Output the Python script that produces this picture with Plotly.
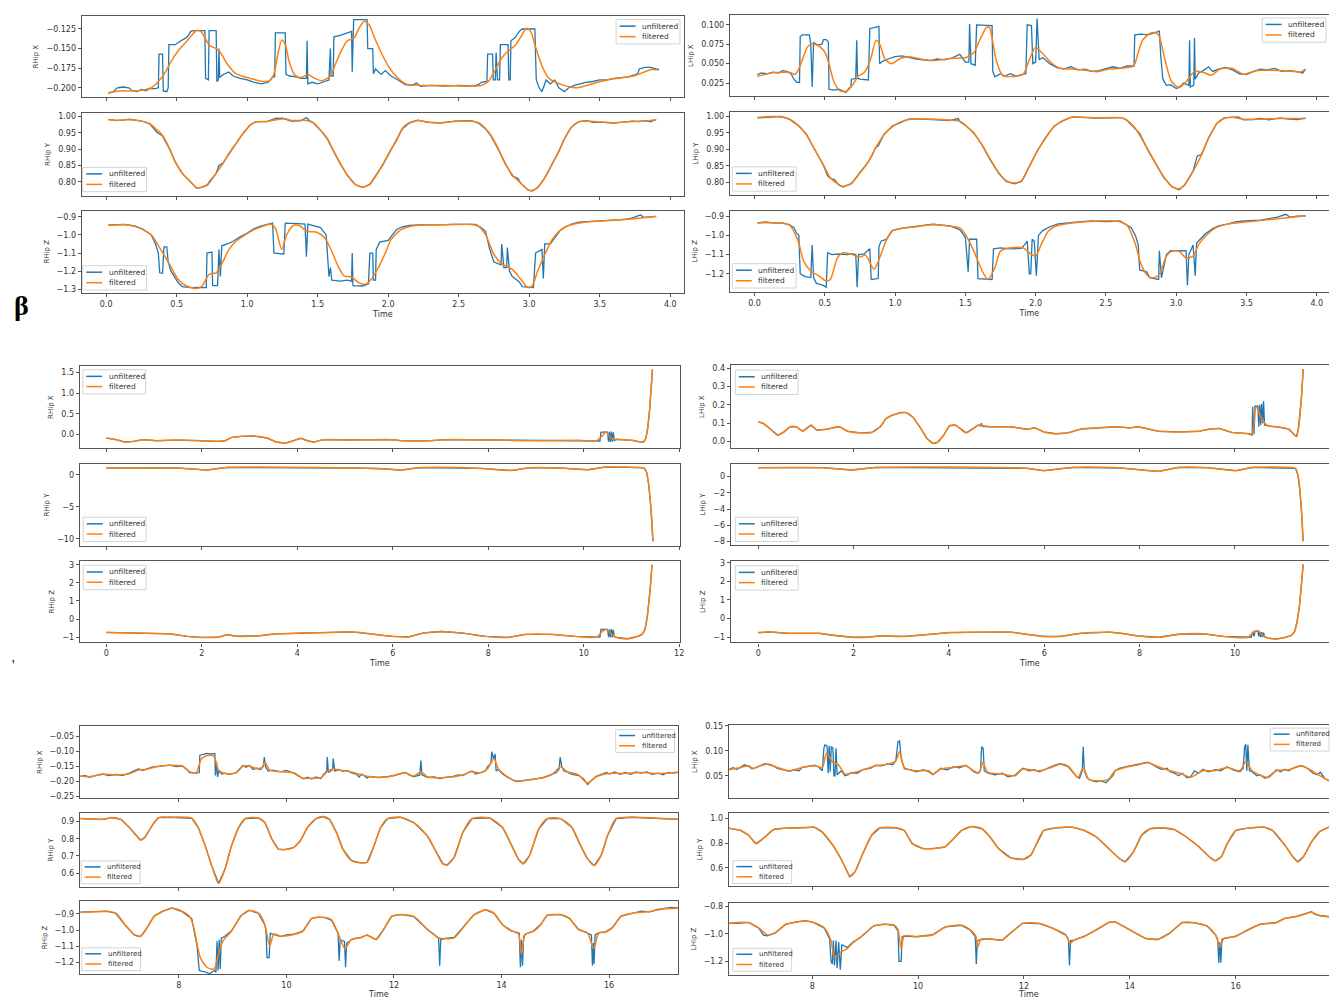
import plotly.graph_objects as go

W, H = 1333, 999
BLUE = "#1f77b4"
ORANGE = "#ff7f0e"
FONT = "DejaVu Sans"

# ---------------- Group A (0-4 s) ----------------
A_RHIP_X_FILT = [(0.016,-0.206),(0.10,-0.204),(0.196,-0.204),(0.26,-0.203),(0.32,-0.200),(0.37,-0.192),(0.42,-0.180),(0.465,-0.165),(0.51,-0.153),(0.56,-0.143),(0.607,-0.133),(0.64,-0.127),(0.67,-0.128),(0.70,-0.136),(0.734,-0.146),(0.78,-0.150),(0.81,-0.155),(0.86,-0.170),(0.92,-0.182),(1.02,-0.188),(1.11,-0.192),(1.16,-0.191),(1.19,-0.182),(1.22,-0.155),(1.245,-0.139),(1.27,-0.145),(1.30,-0.168),(1.34,-0.184),(1.38,-0.187),(1.43,-0.183),(1.48,-0.188),(1.53,-0.191),(1.59,-0.185),(1.625,-0.170),(1.67,-0.152),(1.71,-0.140),(1.76,-0.136),(1.79,-0.125),(1.83,-0.115),(1.866,-0.120),(1.90,-0.135),(1.95,-0.155),(2.0,-0.172),(2.06,-0.186),(2.125,-0.195),(2.22,-0.197),(2.41,-0.197),(2.57,-0.198),(2.66,-0.197),(2.71,-0.192),(2.76,-0.177),(2.805,-0.162),(2.85,-0.153),(2.90,-0.146),(2.94,-0.135),(2.98,-0.124),(3.01,-0.128),(3.04,-0.145),(3.09,-0.172),(3.14,-0.188),(3.23,-0.196),(3.33,-0.200),(3.39,-0.198),(3.485,-0.193),(3.58,-0.189),(3.67,-0.187),(3.74,-0.185),(3.80,-0.181),(3.86,-0.177),(3.91,-0.177)]
A_RHIP_X_UNF = [(0.016,-0.207),(0.05,-0.205),(0.08,-0.200),(0.12,-0.199),(0.16,-0.200),(0.19,-0.204),(0.22,-0.205),(0.25,-0.202),(0.28,-0.204),(0.31,-0.201),(0.35,-0.201),(0.37,-0.200),(0.375,-0.157),(0.40,-0.157),(0.405,-0.204),(0.43,-0.205),(0.44,-0.200),(0.445,-0.145),(0.49,-0.145),(0.51,-0.142),(0.53,-0.140),(0.56,-0.137),(0.58,-0.134),(0.60,-0.128),(0.62,-0.127),(0.70,-0.127),(0.705,-0.188),(0.725,-0.190),(0.73,-0.127),(0.78,-0.127),(0.785,-0.192),(0.795,-0.190),(0.80,-0.150),(0.805,-0.187),(0.83,-0.183),(0.87,-0.180),(0.90,-0.185),(0.95,-0.188),(1.00,-0.190),(1.05,-0.193),(1.10,-0.195),(1.15,-0.193),(1.18,-0.186),(1.195,-0.186),(1.20,-0.130),(1.27,-0.130),(1.275,-0.183),(1.30,-0.185),(1.35,-0.186),(1.38,-0.188),(1.42,-0.188),(1.425,-0.140),(1.43,-0.195),(1.46,-0.193),(1.50,-0.195),(1.55,-0.192),(1.58,-0.190),(1.59,-0.150),(1.595,-0.185),(1.61,-0.185),(1.615,-0.135),(1.66,-0.133),(1.70,-0.130),(1.74,-0.128),(1.745,-0.180),(1.75,-0.128),(1.755,-0.113),(1.85,-0.113),(1.855,-0.150),(1.89,-0.150),(1.895,-0.182),(1.91,-0.176),(1.95,-0.183),(1.98,-0.178),(2.02,-0.185),(2.07,-0.190),(2.12,-0.196),(2.17,-0.197),(2.20,-0.194),(2.23,-0.198),(2.30,-0.197),(2.40,-0.198),(2.50,-0.197),(2.60,-0.198),(2.64,-0.196),(2.66,-0.193),(2.70,-0.192),(2.705,-0.157),(2.74,-0.157),(2.745,-0.190),(2.76,-0.190),(2.765,-0.155),(2.775,-0.190),(2.79,-0.190),(2.795,-0.145),(2.85,-0.145),(2.855,-0.190),(2.865,-0.190),(2.87,-0.140),(2.90,-0.136),(2.93,-0.128),(2.95,-0.125),(3.04,-0.125),(3.045,-0.160),(3.05,-0.190),(3.07,-0.200),(3.09,-0.205),(3.12,-0.190),(3.15,-0.195),(3.18,-0.190),(3.21,-0.200),(3.25,-0.205),(3.28,-0.200),(3.32,-0.197),(3.36,-0.195),(3.40,-0.193),(3.45,-0.192),(3.50,-0.190),(3.55,-0.190),(3.60,-0.188),(3.65,-0.187),(3.70,-0.186),(3.74,-0.184),(3.77,-0.182),(3.78,-0.176),(3.82,-0.174),(3.86,-0.174),(3.90,-0.176),(3.92,-0.177)]

A_RHIP_Y_FILT = [(0.016,0.990),(0.07,0.988),(0.16,0.990),(0.26,0.985),(0.31,0.978),(0.35,0.963),(0.40,0.942),(0.45,0.902),(0.49,0.862),(0.54,0.826),(0.59,0.803),(0.64,0.783),(0.68,0.784),(0.73,0.796),(0.78,0.826),(0.83,0.857),(0.87,0.887),(0.92,0.917),(0.97,0.947),(1.02,0.973),(1.06,0.983),(1.14,0.985),(1.22,0.991),(1.27,0.993),(1.31,0.988),(1.42,0.988),(1.47,0.981),(1.52,0.958),(1.57,0.932),(1.61,0.897),(1.66,0.857),(1.71,0.821),(1.77,0.791),(1.82,0.784),(1.87,0.793),(1.91,0.816),(1.96,0.852),(2.01,0.892),(2.06,0.927),(2.10,0.963),(2.15,0.981),(2.21,0.988),(2.28,0.983),(2.37,0.981),(2.47,0.985),(2.59,0.986),(2.64,0.981),(2.69,0.963),(2.73,0.942),(2.78,0.902),(2.83,0.857),(2.88,0.821),(2.94,0.796),(2.99,0.776),(3.02,0.773),(3.06,0.783),(3.11,0.811),(3.16,0.852),(3.21,0.892),(3.25,0.932),(3.30,0.968),(3.35,0.983),(3.41,0.986),(3.51,0.983),(3.60,0.981),(3.73,0.985),(3.82,0.986),(3.90,0.990)]
A_RHIP_Y_UNF = [(0.016,0.991),(0.07,0.988),(0.12,0.989),(0.16,0.992),(0.22,0.988),(0.26,0.985),(0.31,0.977),(0.34,0.960),(0.36,0.952),(0.40,0.940),(0.45,0.900),(0.49,0.860),(0.54,0.825),(0.59,0.804),(0.62,0.790),(0.64,0.781),(0.68,0.783),(0.72,0.790),(0.73,0.800),(0.78,0.826),(0.80,0.850),(0.83,0.858),(0.85,0.872),(0.87,0.885),(0.92,0.918),(0.97,0.948),(1.02,0.974),(1.06,0.984),(1.14,0.984),(1.20,0.994),(1.25,0.995),(1.29,0.990),(1.31,0.986),(1.38,0.987),(1.42,0.997),(1.44,0.988),(1.47,0.980),(1.52,0.958),(1.55,0.940),(1.57,0.930),(1.61,0.895),(1.66,0.855),(1.71,0.820),(1.77,0.790),(1.82,0.783),(1.87,0.792),(1.91,0.818),(1.96,0.850),(2.01,0.890),(2.06,0.928),(2.10,0.962),(2.15,0.980),(2.21,0.989),(2.28,0.982),(2.37,0.980),(2.47,0.986),(2.59,0.987),(2.64,0.980),(2.69,0.962),(2.73,0.940),(2.78,0.900),(2.83,0.855),(2.88,0.818),(2.92,0.810),(2.94,0.795),(2.99,0.775),(3.02,0.772),(3.06,0.782),(3.11,0.812),(3.16,0.853),(3.21,0.894),(3.25,0.932),(3.30,0.968),(3.35,0.984),(3.41,0.987),(3.45,0.982),(3.51,0.983),(3.60,0.980),(3.68,0.984),(3.73,0.986),(3.78,0.984),(3.82,0.987),(3.86,0.984),(3.90,0.991)]

A_RHIP_Z_FILT = [(0.016,-0.947),(0.13,-0.944),(0.20,-0.953),(0.26,-0.971),(0.32,-0.999),(0.38,-1.072),(0.45,-1.163),(0.51,-1.245),(0.57,-1.282),(0.64,-1.296),(0.68,-1.282),(0.73,-1.218),(0.78,-1.209),(0.83,-1.145),(0.87,-1.081),(0.92,-1.035),(0.98,-1.002),(1.05,-0.971),(1.11,-0.953),(1.17,-0.940),(1.20,-0.962),(1.245,-1.080),(1.28,-0.999),(1.33,-0.947),(1.38,-0.953),(1.42,-0.980),(1.49,-0.984),(1.55,-1.017),(1.60,-1.090),(1.65,-1.181),(1.69,-1.227),(1.74,-1.232),(1.79,-1.263),(1.84,-1.272),(1.88,-1.245),(1.93,-1.181),(1.98,-1.099),(2.02,-1.026),(2.09,-0.971),(2.15,-0.953),(2.28,-0.944),(2.40,-0.944),(2.59,-0.942),(2.64,-0.953),(2.69,-0.999),(2.75,-1.108),(2.81,-1.163),(2.88,-1.190),(2.94,-1.245),(2.99,-1.291),(3.02,-1.282),(3.06,-1.199),(3.11,-1.108),(3.17,-1.017),(3.24,-0.962),(3.32,-0.940),(3.41,-0.929),(3.54,-0.922),(3.66,-0.916),(3.79,-0.907),(3.90,-0.898)]
A_RHIP_Z_UNF = [(0.016,-0.945),(0.08,-0.943),(0.13,-0.942),(0.20,-0.950),(0.26,-0.968),(0.32,-1.000),(0.35,-1.050),(0.37,-1.100),(0.38,-1.209),(0.40,-1.212),(0.41,-1.066),(0.43,-1.066),(0.44,-1.150),(0.46,-1.200),(0.51,-1.263),(0.54,-1.285),(0.60,-1.291),(0.66,-1.290),(0.71,-1.291),(0.715,-1.100),(0.75,-1.095),(0.755,-1.280),(0.79,-1.280),(0.80,-1.080),(0.81,-1.230),(0.82,-1.060),(0.86,-1.050),(0.90,-1.035),(0.95,-1.010),(1.00,-0.990),(1.05,-0.965),(1.10,-0.950),(1.16,-0.937),(1.18,-0.935),(1.19,-1.100),(1.26,-1.105),(1.27,-0.935),(1.30,-0.935),(1.36,-0.938),(1.41,-0.940),(1.42,-1.120),(1.43,-0.940),(1.46,-0.948),(1.52,-0.960),(1.56,-1.000),(1.58,-1.230),(1.59,-1.180),(1.60,-1.250),(1.66,-1.255),(1.71,-1.250),(1.74,-1.255),(1.745,-1.100),(1.75,-1.280),(1.82,-1.282),(1.86,-1.270),(1.87,-1.100),(1.89,-1.100),(1.895,-1.250),(1.91,-1.250),(1.915,-1.080),(1.94,-1.040),(2.00,-1.030),(2.03,-1.000),(2.06,-0.970),(2.10,-0.955),(2.15,-0.948),(2.25,-0.943),(2.35,-0.945),(2.45,-0.942),(2.55,-0.944),(2.62,-0.942),(2.66,-0.960),(2.69,-0.980),(2.72,-1.080),(2.75,-1.150),(2.80,-1.165),(2.805,-1.050),(2.82,-1.180),(2.84,-1.180),(2.845,-1.070),(2.86,-1.200),(2.88,-1.230),(2.93,-1.260),(2.95,-1.285),(3.03,-1.290),(3.045,-1.100),(3.08,-1.085),(3.09,-1.080),(3.10,-1.240),(3.11,-1.050),(3.15,-1.050),(3.18,-1.020),(3.22,-0.975),(3.26,-0.955),(3.30,-0.940),(3.35,-0.930),(3.40,-0.928),(3.45,-0.924),(3.50,-0.922),(3.55,-0.924),(3.60,-0.920),(3.65,-0.916),(3.70,-0.912),(3.74,-0.905),(3.77,-0.895),(3.79,-0.890),(3.81,-0.903),(3.85,-0.900),(3.90,-0.898)]

A_LHIP_X_FILT = [(0.02,0.0335),(0.108,0.0378),(0.195,0.039),(0.253,0.0387),(0.288,0.036),(0.317,0.044),(0.346,0.058),(0.375,0.071),(0.404,0.0755),(0.442,0.074),(0.471,0.071),(0.506,0.063),(0.535,0.046),(0.564,0.027),(0.608,0.015),(0.652,0.0145),(0.695,0.022),(0.739,0.034),(0.783,0.039),(0.826,0.056),(0.864,0.080),(0.893,0.074),(0.928,0.056),(0.972,0.050),(1.04,0.057),(1.097,0.059),(1.18,0.056),(1.27,0.054),(1.39,0.0565),(1.504,0.058),(1.56,0.064),(1.605,0.0815),(1.65,0.0965),(1.67,0.097),(1.69,0.083),(1.72,0.054),(1.766,0.0345),(1.84,0.0335),(1.91,0.036),(1.955,0.055),(1.999,0.071),(2.05,0.063),(2.115,0.0505),(2.173,0.044),(2.26,0.043),(2.377,0.041),(2.435,0.0395),(2.52,0.043),(2.61,0.044),(2.697,0.047),(2.726,0.062),(2.76,0.080),(2.813,0.089),(2.85,0.090),(2.877,0.086),(2.92,0.055),(2.964,0.028),(3.017,0.019),(3.066,0.026),(3.133,0.040),(3.19,0.039),(3.25,0.035),(3.31,0.043),(3.395,0.044),(3.48,0.0365),(3.57,0.041),(3.657,0.0415),(3.773,0.041),(3.89,0.0395),(3.918,0.043)]
A_LHIP_X_UNF = [(0.02,0.036),(0.05,0.038),(0.09,0.037),(0.13,0.039),(0.17,0.038),(0.20,0.041),(0.23,0.040),(0.26,0.037),(0.28,0.030),(0.30,0.026),(0.32,0.026),(0.325,0.085),(0.34,0.087),(0.39,0.087),(0.40,0.075),(0.41,0.020),(0.42,0.077),(0.45,0.074),(0.48,0.075),(0.49,0.081),(0.51,0.081),(0.525,0.078),(0.53,0.017),(0.56,0.016),(0.60,0.017),(0.63,0.014),(0.65,0.013),(0.67,0.018),(0.685,0.020),(0.69,0.030),(0.72,0.031),(0.727,0.080),(0.733,0.031),(0.75,0.030),(0.81,0.029),(0.82,0.095),(0.86,0.097),(0.885,0.098),(0.89,0.050),(0.91,0.053),(0.95,0.056),(1.00,0.059),(1.05,0.060),(1.10,0.058),(1.15,0.056),(1.20,0.055),(1.25,0.054),(1.30,0.056),(1.35,0.055),(1.40,0.057),(1.46,0.062),(1.50,0.052),(1.525,0.052),(1.53,0.101),(1.54,0.050),(1.57,0.048),(1.58,0.100),(1.69,0.099),(1.695,0.040),(1.71,0.033),(1.75,0.037),(1.78,0.034),(1.82,0.037),(1.86,0.034),(1.93,0.037),(1.94,0.100),(1.97,0.099),(1.98,0.050),(2.00,0.052),(2.01,0.108),(2.025,0.055),(2.05,0.058),(2.10,0.050),(2.15,0.045),(2.20,0.043),(2.25,0.046),(2.30,0.042),(2.35,0.043),(2.40,0.040),(2.45,0.041),(2.50,0.044),(2.55,0.046),(2.60,0.044),(2.65,0.047),(2.70,0.047),(2.705,0.087),(2.75,0.088),(2.80,0.087),(2.85,0.090),(2.88,0.092),(2.89,0.060),(2.905,0.030),(2.93,0.022),(2.96,0.023),(3.00,0.018),(3.04,0.022),(3.05,0.025),(3.09,0.022),(3.095,0.080),(3.10,0.020),(3.125,0.022),(3.13,0.083),(3.135,0.030),(3.16,0.038),(3.20,0.042),(3.23,0.046),(3.26,0.040),(3.30,0.043),(3.35,0.045),(3.40,0.042),(3.45,0.037),(3.50,0.036),(3.55,0.040),(3.60,0.043),(3.65,0.042),(3.70,0.044),(3.75,0.040),(3.80,0.041),(3.85,0.040),(3.90,0.038),(3.92,0.043)]

A_LHIP_Y_FILT = [(0.02,0.996),(0.11,0.999),(0.19,0.998),(0.25,0.991),(0.31,0.973),(0.37,0.943),(0.43,0.898),(0.49,0.853),(0.54,0.813),(0.60,0.793),(0.63,0.788),(0.69,0.798),(0.75,0.828),(0.81,0.863),(0.86,0.903),(0.92,0.943),(0.98,0.968),(1.04,0.983),(1.10,0.990),(1.27,0.991),(1.39,0.988),(1.46,0.985),(1.50,0.973),(1.56,0.948),(1.62,0.913),(1.68,0.868),(1.74,0.828),(1.79,0.805),(1.85,0.798),(1.90,0.805),(1.95,0.843),(2.01,0.893),(2.07,0.933),(2.13,0.968),(2.19,0.985),(2.26,0.997),(2.43,0.995),(2.61,0.995),(2.65,0.988),(2.70,0.968),(2.74,0.943),(2.80,0.898),(2.86,0.853),(2.91,0.818),(2.97,0.788),(3.02,0.781),(3.06,0.793),(3.12,0.833),(3.18,0.883),(3.23,0.933),(3.29,0.978),(3.34,0.993),(3.39,0.997),(3.48,0.991),(3.60,0.991),(3.74,0.993),(3.92,0.993)]
A_LHIP_Y_UNF = [(0.02,0.995),(0.11,0.998),(0.19,0.999),(0.25,0.990),(0.31,0.972),(0.35,0.955),(0.37,0.945),(0.43,0.897),(0.49,0.852),(0.52,0.820),(0.54,0.812),(0.57,0.808),(0.60,0.792),(0.63,0.786),(0.69,0.796),(0.75,0.830),(0.81,0.862),(0.84,0.885),(0.86,0.905),(0.88,0.910),(0.92,0.945),(0.98,0.970),(1.04,0.982),(1.10,0.992),(1.27,0.990),(1.39,0.987),(1.45,0.993),(1.46,0.984),(1.50,0.972),(1.56,0.950),(1.62,0.912),(1.68,0.866),(1.74,0.826),(1.79,0.803),(1.85,0.796),(1.90,0.803),(1.95,0.845),(1.98,0.870),(2.01,0.894),(2.07,0.935),(2.13,0.970),(2.19,0.986),(2.26,0.998),(2.43,0.994),(2.61,0.996),(2.65,0.987),(2.70,0.966),(2.74,0.948),(2.80,0.896),(2.86,0.852),(2.91,0.815),(2.97,0.786),(3.02,0.778),(3.06,0.792),(3.12,0.835),(3.15,0.880),(3.18,0.884),(3.23,0.935),(3.29,0.979),(3.34,0.995),(3.39,0.996),(3.44,0.998),(3.48,0.989),(3.55,0.990),(3.60,0.993),(3.66,0.989),(3.74,0.995),(3.80,0.991),(3.86,0.990),(3.92,0.994)]

A_LHIP_Z_FILT = [(0.02,-0.935),(0.19,-0.935),(0.25,-0.947),(0.31,-1.030),(0.35,-1.134),(0.40,-1.186),(0.46,-1.212),(0.51,-1.238),(0.54,-1.229),(0.59,-1.117),(0.63,-1.091),(0.69,-1.099),(0.75,-1.113),(0.79,-1.103),(0.85,-1.177),(0.89,-1.117),(0.94,-1.021),(0.98,-0.975),(1.07,-0.961),(1.15,-0.955),(1.27,-0.943),(1.39,-0.952),(1.46,-0.961),(1.50,-0.995),(1.56,-1.082),(1.62,-1.186),(1.66,-1.229),(1.71,-1.169),(1.75,-1.082),(1.82,-1.065),(1.91,-1.065),(1.97,-1.099),(2.00,-1.108),(2.04,-1.047),(2.09,-0.978),(2.14,-0.952),(2.26,-0.935),(2.43,-0.926),(2.58,-0.926),(2.65,-0.947),(2.71,-1.047),(2.75,-1.151),(2.80,-1.212),(2.84,-1.221),(2.88,-1.203),(2.93,-1.108),(2.97,-1.082),(3.02,-1.082),(3.07,-1.117),(3.12,-1.108),(3.16,-1.047),(3.22,-0.995),(3.28,-0.961),(3.37,-0.940),(3.48,-0.931),(3.60,-0.923),(3.74,-0.912),(3.89,-0.900),(3.92,-0.900)]
A_LHIP_Z_UNF = [(0.02,-0.935),(0.08,-0.930),(0.14,-0.936),(0.19,-0.934),(0.25,-0.945),(0.28,-0.960),(0.30,-0.990),(0.315,-1.000),(0.325,-1.200),(0.36,-1.215),(0.40,-1.220),(0.41,-1.050),(0.42,-1.220),(0.44,-1.250),(0.48,-1.258),(0.51,-1.270),(0.52,-1.090),(0.55,-1.100),(0.60,-1.097),(0.66,-1.100),(0.69,-1.095),(0.72,-1.100),(0.73,-1.270),(0.74,-1.100),(0.78,-1.097),(0.82,-1.070),(0.83,-1.230),(0.88,-1.225),(0.885,-1.060),(0.90,-1.030),(0.94,-1.020),(0.98,-0.975),(1.05,-0.962),(1.15,-0.953),(1.27,-0.942),(1.39,-0.950),(1.46,-0.970),(1.50,-1.010),(1.52,-1.190),(1.53,-1.020),(1.58,-1.020),(1.59,-1.225),(1.69,-1.230),(1.70,-1.070),(1.75,-1.065),(1.82,-1.070),(1.90,-1.068),(1.93,-1.040),(1.94,-1.030),(1.955,-1.200),(1.965,-1.200),(1.975,-1.020),(1.99,-1.030),(2.005,-1.210),(2.02,-1.000),(2.05,-0.975),(2.10,-0.955),(2.16,-0.940),(2.22,-0.935),(2.30,-0.930),(2.40,-0.925),(2.50,-0.928),(2.60,-0.925),(2.65,-0.945),(2.68,-0.960),(2.71,-1.000),(2.73,-1.050),(2.74,-1.180),(2.79,-1.190),(2.81,-1.220),(2.875,-1.230),(2.88,-1.080),(2.895,-1.220),(2.93,-1.100),(2.96,-1.080),(3.07,-1.080),(3.08,-1.260),(3.09,-1.100),(3.12,-1.050),(3.135,-1.210),(3.145,-1.040),(3.17,-1.020),(3.21,-0.990),(3.26,-0.965),(3.30,-0.950),(3.37,-0.940),(3.42,-0.930),(3.48,-0.925),(3.54,-0.922),(3.60,-0.920),(3.66,-0.912),(3.72,-0.905),(3.78,-0.890),(3.81,-0.905),(3.86,-0.900),(3.92,-0.898)]

# ---------------- Group B (0-11.5 s) ----------------
B_RHIP_X_FILT = [(0.0,-0.088),(0.2,-0.128),(0.39,-0.184),(0.58,-0.168),(0.76,-0.128),(1.04,-0.152),(1.51,-0.136),(1.98,-0.152),(2.35,-0.168),(2.49,-0.152),(2.63,-0.072),(2.81,-0.048),(3.09,-0.040),(3.37,-0.088),(3.56,-0.184),(3.75,-0.208),(3.93,-0.152),(4.07,-0.096),(4.21,-0.152),(4.35,-0.184),(4.54,-0.128),(5.05,-0.136),(5.98,-0.128),(6.17,-0.152),(6.73,-0.152),(7.10,-0.128),(7.57,-0.128),(8.03,-0.136),(8.96,-0.152),(9.89,-0.144),(10.27,-0.152),(10.38,-0.048),(10.47,0.056),(10.57,-0.088),(10.69,-0.120),(11.01,-0.144),(11.20,-0.184),(11.25,-0.19),(11.30,-0.10),(11.34,0.15),(11.38,0.6),(11.41,1.05),(11.44,1.58)]
B_RHIP_X_UNF = [(0.0,-0.090),(0.2,-0.125),(0.39,-0.185),(0.58,-0.170),(0.76,-0.125),(1.04,-0.150),(1.51,-0.140),(1.98,-0.150),(2.35,-0.170),(2.49,-0.150),(2.63,-0.070),(2.81,-0.050),(3.09,-0.040),(3.37,-0.090),(3.56,-0.185),(3.75,-0.210),(3.93,-0.150),(4.07,-0.095),(4.21,-0.150),(4.35,-0.185),(4.54,-0.125),(5.05,-0.135),(5.98,-0.130),(6.17,-0.150),(6.73,-0.155),(7.10,-0.125),(7.57,-0.130),(8.03,-0.135),(8.96,-0.150),(9.89,-0.145),(10.27,-0.155),(10.34,-0.160),(10.36,0.050),(10.40,0.060),(10.46,0.060),(10.50,0.050),(10.52,-0.180),(10.54,0.060),(10.56,-0.190),(10.58,0.070),(10.60,-0.180),(10.62,0.050),(10.64,-0.150),(10.69,-0.120),(11.01,-0.145),(11.20,-0.185),(11.25,-0.19),(11.30,-0.10),(11.34,0.15),(11.38,0.6),(11.41,1.05),(11.44,1.58)]

B_RHIP_Y_FILT = [(0.0,1.04),(1.51,1.04),(1.98,0.78),(2.1,0.72),(2.25,0.88),(2.53,1.14),(5.24,1.04),(5.80,0.93),(6.17,0.73),(6.54,1.09),(7.84,0.98),(8.50,0.67),(8.87,1.09),(9.52,1.04),(10.08,0.78),(10.45,1.19),(11.22,1.09),(11.27,1.0),(11.32,0.3),(11.36,-1.5),(11.40,-4.5),(11.43,-7.5),(11.45,-10.4)]
B_RHIP_Y_UNF = B_RHIP_Y_FILT

B_RHIP_Z_FILT = [(0.0,-0.743),(0.58,-0.78),(1.32,-0.82),(1.70,-0.96),(1.98,-1.02),(2.35,-1.0),(2.53,-0.87),(2.72,-0.95),(3.19,-0.93),(3.56,-0.82),(4.12,-0.78),(4.68,-0.743),(5.14,-0.71),(5.52,-0.82),(5.98,-0.96),(6.35,-0.98),(6.63,-0.78),(7.01,-0.69),(7.47,-0.78),(7.94,-0.96),(8.40,-1.02),(8.78,-0.85),(9.34,-0.85),(9.80,-0.96),(10.27,-1.0),(10.38,-0.72),(10.47,-0.56),(10.57,-0.82),(10.69,-1.02),(10.92,-1.09),(11.11,-0.98),(11.22,-0.85),(11.28,-0.6),(11.33,0.1),(11.37,1.0),(11.40,1.9),(11.43,3.0)]
B_RHIP_Z_UNF = [(0.0,-0.743),(0.58,-0.78),(1.32,-0.82),(1.70,-0.96),(1.98,-1.02),(2.35,-1.0),(2.53,-0.87),(2.72,-0.95),(3.19,-0.93),(3.56,-0.82),(4.12,-0.78),(4.68,-0.743),(5.14,-0.71),(5.52,-0.82),(5.98,-0.96),(6.35,-0.98),(6.63,-0.78),(7.01,-0.69),(7.47,-0.78),(7.94,-0.96),(8.40,-1.02),(8.78,-0.85),(9.34,-0.85),(9.80,-0.96),(10.27,-1.0),(10.34,-1.0),(10.36,-0.58),(10.46,-0.56),(10.50,-0.58),(10.52,-1.0),(10.54,-0.58),(10.56,-1.02),(10.58,-0.56),(10.60,-1.0),(10.62,-0.6),(10.64,-0.98),(10.69,-1.02),(10.92,-1.09),(11.11,-0.98),(11.22,-0.85),(11.28,-0.6),(11.33,0.1),(11.37,1.0),(11.40,1.9),(11.43,3.0)]

B_LHIP_X_FILT = [(0.0,0.107),(0.11,0.098),(0.24,0.071),(0.41,0.034),(0.54,0.052),(0.67,0.080),(0.80,0.080),(0.93,0.056),(1.03,0.074),(1.11,0.089),(1.23,0.062),(1.44,0.067),(1.70,0.080),(1.87,0.056),(2.13,0.047),(2.38,0.049),(2.56,0.080),(2.68,0.125),(2.81,0.143),(2.98,0.157),(3.11,0.157),(3.24,0.134),(3.41,0.071),(3.54,0.016),(3.67,-0.011),(3.76,-0.005),(3.89,0.034),(4.01,0.085),(4.14,0.089),(4.27,0.062),(4.36,0.047),(4.49,0.067),(4.61,0.089),(4.87,0.080),(5.30,0.080),(5.64,0.067),(5.81,0.074),(5.99,0.052),(6.24,0.042),(6.50,0.047),(6.76,0.067),(7.10,0.074),(7.53,0.080),(7.79,0.074),(7.96,0.080),(8.39,0.056),(8.82,0.052),(9.25,0.056),(9.46,0.067),(9.67,0.071),(9.93,0.049),(10.27,0.043),(10.36,0.043),(10.43,0.179),(10.46,0.188),(10.51,0.152),(10.57,0.116),(10.70,0.085),(10.87,0.080),(11.13,0.067),(11.22,0.043),(11.29,0.025),(11.33,0.07),(11.37,0.16),(11.40,0.26),(11.43,0.396)]
B_LHIP_X_UNF = [(0.0,0.107),(0.11,0.098),(0.24,0.071),(0.41,0.034),(0.54,0.052),(0.67,0.080),(0.80,0.080),(0.93,0.056),(1.03,0.074),(1.11,0.089),(1.23,0.062),(1.44,0.067),(1.70,0.080),(1.87,0.056),(2.13,0.047),(2.38,0.049),(2.56,0.080),(2.68,0.125),(2.81,0.143),(2.98,0.157),(3.11,0.157),(3.24,0.134),(3.41,0.071),(3.54,0.016),(3.67,-0.011),(3.76,-0.005),(3.89,0.034),(4.01,0.085),(4.14,0.089),(4.27,0.062),(4.36,0.047),(4.49,0.067),(4.61,0.089),(4.66,0.085),(4.68,0.100),(4.70,0.082),(4.87,0.080),(5.30,0.080),(5.64,0.067),(5.81,0.074),(5.99,0.052),(6.24,0.042),(6.50,0.047),(6.76,0.067),(7.10,0.074),(7.53,0.080),(7.79,0.074),(7.96,0.080),(8.39,0.056),(8.82,0.052),(9.25,0.056),(9.46,0.067),(9.67,0.071),(9.93,0.049),(10.27,0.043),(10.34,0.038),(10.36,0.035),(10.37,0.190),(10.40,0.040),(10.42,0.195),(10.45,0.190),(10.48,0.195),(10.50,0.080),(10.52,0.200),(10.54,0.090),(10.56,0.205),(10.58,0.100),(10.60,0.220),(10.62,0.090),(10.66,0.088),(10.70,0.085),(10.87,0.080),(11.13,0.067),(11.22,0.043),(11.29,0.025),(11.33,0.07),(11.37,0.16),(11.40,0.26),(11.43,0.396)]

B_LHIP_Y_FILT = [(0.0,1.09),(1.36,1.09),(1.96,0.81),(2.47,1.13),(5.64,1.01),(5.99,0.73),(6.59,1.13),(7.62,1.05),(8.39,0.65),(8.82,1.13),(9.42,1.09),(10.02,0.73),(10.36,1.13),(11.22,1.09),(11.27,1.0),(11.32,0.2),(11.36,-1.6),(11.39,-3.8),(11.41,-5.6),(11.43,-7.96)]
B_LHIP_Y_UNF = B_LHIP_Y_FILT

B_LHIP_Z_FILT = [(0.0,-0.75),(0.24,-0.72),(0.67,-0.79),(1.27,-0.79),(1.53,-0.88),(1.96,-1.0),(2.30,-1.0),(2.56,-0.93),(3.07,-0.96),(3.67,-0.84),(4.01,-0.75),(4.70,-0.73),(5.30,-0.73),(5.56,-0.82),(5.99,-0.96),(6.33,-0.96),(6.76,-0.79),(7.36,-0.73),(7.62,-0.79),(7.96,-0.93),(8.39,-1.0),(8.82,-0.84),(9.33,-0.82),(9.76,-0.96),(10.27,-1.0),(10.40,-0.70),(10.49,-0.66),(10.57,-0.88),(10.70,-1.05),(10.87,-1.09),(11.04,-1.02),(11.18,-0.9),(11.25,-0.7),(11.30,-0.2),(11.35,0.64),(11.39,1.70),(11.43,2.91)]
B_LHIP_Z_UNF = [(0.0,-0.75),(0.24,-0.72),(0.67,-0.79),(1.27,-0.79),(1.53,-0.88),(1.96,-1.0),(2.30,-1.0),(2.56,-0.93),(3.07,-0.96),(3.67,-0.84),(4.01,-0.75),(4.70,-0.73),(5.30,-0.73),(5.56,-0.82),(5.99,-0.96),(6.33,-0.96),(6.76,-0.79),(7.36,-0.73),(7.62,-0.79),(7.96,-0.93),(8.39,-1.0),(8.82,-0.84),(9.33,-0.82),(9.76,-0.96),(10.27,-1.0),(10.34,-1.0),(10.37,-0.70),(10.40,-0.95),(10.42,-0.68),(10.48,-0.68),(10.50,-0.95),(10.52,-0.70),(10.54,-1.0),(10.56,-0.72),(10.58,-1.0),(10.60,-0.75),(10.62,-0.98),(10.70,-1.05),(10.87,-1.09),(11.04,-1.02),(11.18,-0.9),(11.25,-0.7),(11.30,-0.2),(11.35,0.64),(11.39,1.70),(11.43,2.91)]

# ---------------- Group C (6-18 s) ----------------
C_RHIP_X_FILT = [(6.17,-0.182),(6.34,-0.184),(6.59,-0.176),(6.83,-0.178),(7.08,-0.174),(7.25,-0.162),(7.41,-0.159),(7.58,-0.151),(7.83,-0.146),(8.07,-0.149),(8.20,-0.167),(8.32,-0.171),(8.42,-0.124),(8.53,-0.113),(8.65,-0.115),(8.74,-0.162),(8.86,-0.173),(9.07,-0.171),(9.19,-0.149),(9.31,-0.148),(9.44,-0.157),(9.55,-0.153),(9.60,-0.135),(9.69,-0.162),(9.89,-0.167),(10.14,-0.171),(10.31,-0.189),(10.47,-0.189),(10.64,-0.187),(10.76,-0.167),(10.88,-0.157),(10.97,-0.162),(11.13,-0.165),(11.30,-0.173),(11.55,-0.184),(11.88,-0.185),(12.21,-0.171),(12.37,-0.182),(12.50,-0.167),(12.62,-0.184),(12.95,-0.187),(13.28,-0.178),(13.45,-0.167),(13.61,-0.171),(13.74,-0.157),(13.86,-0.124),(13.94,-0.157),(14.11,-0.184),(14.27,-0.198),(14.52,-0.195),(14.77,-0.187),(14.93,-0.178),(15.10,-0.151),(15.22,-0.167),(15.43,-0.178),(15.60,-0.205),(15.76,-0.184),(16.01,-0.173),(16.26,-0.173),(16.59,-0.170),(16.92,-0.173),(17.28,-0.169)]
C_RHIP_X_UNF = [(6.17,-0.183),(6.25,-0.180),(6.34,-0.186),(6.45,-0.180),(6.59,-0.175),(6.70,-0.180),(6.83,-0.176),(6.95,-0.180),(7.08,-0.172),(7.17,-0.165),(7.25,-0.158),(7.33,-0.163),(7.41,-0.157),(7.50,-0.152),(7.58,-0.150),(7.70,-0.148),(7.83,-0.145),(7.95,-0.150),(8.07,-0.148),(8.15,-0.160),(8.20,-0.170),(8.32,-0.172),(8.38,-0.170),(8.39,-0.112),(8.45,-0.108),(8.52,-0.106),(8.60,-0.108),(8.67,-0.106),(8.68,-0.180),(8.70,-0.135),(8.72,-0.185),(8.74,-0.165),(8.80,-0.175),(8.86,-0.172),(8.95,-0.176),(9.07,-0.170),(9.13,-0.158),(9.19,-0.147),(9.25,-0.152),(9.31,-0.146),(9.38,-0.160),(9.44,-0.155),(9.52,-0.160),(9.57,-0.150),(9.59,-0.118),(9.61,-0.150),(9.66,-0.165),(9.75,-0.162),(9.89,-0.168),(10.00,-0.163),(10.14,-0.172),(10.22,-0.180),(10.31,-0.191),(10.40,-0.186),(10.47,-0.192),(10.55,-0.185),(10.64,-0.190),(10.70,-0.175),(10.75,-0.165),(10.76,-0.118),(10.78,-0.170),(10.86,-0.160),(10.87,-0.123),(10.90,-0.165),(10.97,-0.160),(11.05,-0.166),(11.13,-0.163),(11.22,-0.172),(11.30,-0.175),(11.35,-0.185),(11.40,-0.175),(11.50,-0.188),(11.55,-0.183),(11.70,-0.186),(11.88,-0.184),(12.00,-0.180),(12.10,-0.176),(12.21,-0.170),(12.30,-0.180),(12.37,-0.184),(12.48,-0.178),(12.50,-0.130),(12.52,-0.178),(12.62,-0.186),(12.75,-0.185),(12.85,-0.190),(12.95,-0.186),(13.10,-0.183),(13.20,-0.178),(13.28,-0.180),(13.38,-0.170),(13.45,-0.165),(13.52,-0.175),(13.61,-0.170),(13.70,-0.165),(13.74,-0.150),(13.80,-0.140),(13.82,-0.100),(13.85,-0.125),(13.88,-0.108),(13.90,-0.165),(13.94,-0.160),(14.02,-0.175),(14.11,-0.186),(14.20,-0.195),(14.27,-0.200),(14.38,-0.197),(14.52,-0.193),(14.65,-0.190),(14.77,-0.188),(14.85,-0.182),(14.93,-0.176),(15.02,-0.170),(15.07,-0.158),(15.09,-0.118),(15.12,-0.150),(15.16,-0.165),(15.22,-0.168),(15.30,-0.175),(15.43,-0.180),(15.52,-0.190),(15.60,-0.210),(15.65,-0.200),(15.76,-0.183),(15.85,-0.178),(15.95,-0.170),(16.01,-0.175),(16.10,-0.168),(16.20,-0.176),(16.30,-0.170),(16.40,-0.176),(16.50,-0.168),(16.59,-0.172),(16.70,-0.168),(16.80,-0.176),(16.92,-0.172),(17.00,-0.178),(17.10,-0.170),(17.20,-0.172),(17.28,-0.169)]

C_RHIP_Y_FILT = [(6.17,0.917),(6.59,0.913),(6.75,0.923),(6.92,0.913),(7.08,0.865),(7.21,0.817),(7.29,0.792),(7.37,0.808),(7.50,0.875),(7.62,0.923),(7.83,0.925),(8.24,0.919),(8.36,0.865),(8.49,0.760),(8.61,0.644),(8.74,0.540),(8.86,0.625),(8.98,0.760),(9.11,0.865),(9.23,0.917),(9.48,0.921),(9.60,0.894),(9.73,0.798),(9.85,0.740),(9.98,0.737),(10.14,0.750),(10.26,0.788),(10.39,0.865),(10.55,0.917),(10.68,0.929),(10.80,0.913),(10.93,0.837),(11.05,0.740),(11.21,0.673),(11.38,0.660),(11.50,0.663),(11.63,0.760),(11.75,0.865),(11.88,0.917),(12.12,0.925),(12.37,0.894),(12.62,0.817),(12.79,0.721),(12.91,0.654),(12.99,0.648),(13.12,0.692),(13.28,0.837),(13.45,0.917),(13.78,0.921),(14.02,0.865),(14.19,0.760),(14.31,0.683),(14.40,0.654),(14.52,0.702),(14.69,0.856),(14.85,0.917),(15.10,0.917),(15.31,0.865),(15.47,0.760),(15.60,0.683),(15.72,0.644),(15.85,0.702),(15.97,0.817),(16.13,0.917),(16.42,0.925),(16.83,0.921),(17.28,0.913)]
C_RHIP_Y_UNF = C_RHIP_Y_FILT

C_RHIP_Z_FILT = [(6.17,-0.892),(6.67,-0.886),(6.83,-0.896),(7.00,-0.967),(7.17,-1.028),(7.29,-1.038),(7.41,-0.987),(7.54,-0.916),(7.70,-0.886),(7.87,-0.866),(8.07,-0.886),(8.20,-0.916),(8.28,-0.987),(8.40,-1.170),(8.53,-1.231),(8.65,-1.241),(8.74,-1.149),(8.82,-1.068),(8.98,-1.007),(9.15,-0.916),(9.31,-0.880),(9.48,-0.896),(9.60,-0.967),(9.69,-1.099),(9.77,-1.024),(9.89,-1.038),(10.14,-1.028),(10.31,-1.007),(10.47,-0.930),(10.72,-0.922),(10.84,-0.937),(10.97,-1.028),(11.09,-1.113),(11.21,-1.058),(11.38,-1.048),(11.50,-1.032),(11.67,-1.058),(11.79,-1.007),(11.96,-0.916),(12.12,-0.906),(12.37,-0.916),(12.62,-0.997),(12.83,-1.048),(12.95,-1.054),(13.12,-1.048),(13.33,-0.967),(13.49,-0.906),(13.70,-0.876),(13.86,-0.896),(14.02,-0.967),(14.19,-1.007),(14.31,-1.018),(14.37,-1.149),(14.44,-1.028),(14.60,-1.007),(14.73,-0.967),(14.85,-0.910),(15.10,-0.906),(15.26,-0.926),(15.43,-0.997),(15.60,-1.018),(15.71,-1.113),(15.81,-1.018),(15.93,-1.014),(16.06,-0.987),(16.22,-0.916),(16.43,-0.896),(16.76,-0.886),(17.01,-0.870),(17.28,-0.866)]
C_RHIP_Z_UNF = [(6.17,-0.890),(6.40,-0.888),(6.67,-0.884),(6.83,-0.898),(7.00,-0.970),(7.17,-1.030),(7.29,-1.040),(7.41,-0.985),(7.54,-0.914),(7.70,-0.884),(7.87,-0.864),(8.07,-0.888),(8.20,-0.918),(8.24,-0.930),(8.34,-1.100),(8.38,-1.250),(8.50,-1.260),(8.57,-1.270),(8.66,-1.250),(8.69,-1.260),(8.71,-1.070),(8.73,-1.250),(8.75,-1.060),(8.77,-1.240),(8.79,-1.050),(8.85,-1.040),(8.98,-1.005),(9.15,-0.914),(9.31,-0.878),(9.48,-0.898),(9.60,-0.970),(9.62,-1.000),(9.64,-1.170),(9.68,-1.170),(9.70,-1.020),(9.77,-1.026),(9.89,-1.040),(10.00,-1.030),(10.14,-1.026),(10.31,-1.005),(10.47,-0.928),(10.60,-0.920),(10.72,-0.924),(10.84,-0.940),(10.96,-1.020),(10.98,-1.190),(11.00,-1.060),(11.08,-1.070),(11.10,-1.230),(11.12,-1.080),(11.21,-1.060),(11.30,-1.050),(11.38,-1.046),(11.50,-1.030),(11.60,-1.050),(11.67,-1.060),(11.79,-1.005),(11.96,-0.914),(12.12,-0.904),(12.37,-0.918),(12.62,-0.995),(12.80,-1.045),(12.83,-1.050),(12.85,-1.220),(12.87,-1.060),(12.95,-1.052),(13.12,-1.046),(13.33,-0.965),(13.49,-0.904),(13.70,-0.874),(13.86,-0.898),(14.02,-0.969),(14.19,-1.005),(14.31,-1.020),(14.33,-1.020),(14.35,-1.230),(14.37,-1.060),(14.39,-1.220),(14.41,-1.040),(14.44,-1.026),(14.60,-1.005),(14.73,-0.965),(14.85,-0.908),(15.10,-0.904),(15.26,-0.928),(15.43,-0.995),(15.60,-1.020),(15.67,-1.030),(15.69,-1.220),(15.71,-1.080),(15.72,-1.210),(15.74,-1.030),(15.81,-1.016),(15.93,-1.012),(16.06,-0.985),(16.22,-0.914),(16.43,-0.898),(16.60,-0.884),(16.76,-0.888),(16.90,-0.872),(17.01,-0.868),(17.15,-0.860),(17.28,-0.864)]

C_LHIP_X_FILT = [(6.42,0.062),(6.65,0.0667),(6.80,0.070),(6.88,0.0647),(7.03,0.070),(7.19,0.0733),(7.34,0.0667),(7.57,0.060),(7.81,0.0667),(8.04,0.070),(8.19,0.0667),(8.27,0.095),(8.39,0.0767),(8.50,0.0713),(8.62,0.0533),(8.73,0.055),(8.97,0.062),(9.20,0.070),(9.43,0.0733),(9.58,0.080),(9.65,0.098),(9.74,0.0667),(9.97,0.060),(10.20,0.060),(10.28,0.0533),(10.43,0.0633),(10.67,0.0667),(10.90,0.070),(11.05,0.060),(11.15,0.0553),(11.22,0.0767),(11.32,0.0567),(11.59,0.0533),(11.83,0.050),(11.98,0.0633),(12.29,0.060),(12.52,0.0667),(12.68,0.0733),(12.83,0.070),(13.02,0.0467),(13.12,0.0667),(13.22,0.0433),(13.37,0.040),(13.60,0.0433),(13.72,0.060),(13.91,0.0667),(14.14,0.0713),(14.34,0.0767),(14.49,0.070),(14.76,0.060),(14.99,0.0533),(15.15,0.0467),(15.38,0.060),(15.61,0.060),(15.84,0.0667),(16.08,0.060),(16.19,0.078),(16.31,0.060),(16.46,0.0513),(16.62,0.0467),(16.77,0.060),(17.00,0.062),(17.23,0.070),(17.39,0.0633),(17.54,0.0533),(17.76,0.040)]
C_LHIP_X_UNF = [(6.42,0.062),(6.50,0.066),(6.58,0.063),(6.65,0.068),(6.72,0.072),(6.80,0.069),(6.86,0.064),(6.92,0.066),(7.03,0.071),(7.10,0.074),(7.19,0.072),(7.26,0.070),(7.34,0.065),(7.45,0.062),(7.57,0.059),(7.65,0.062),(7.75,0.060),(7.81,0.067),(7.90,0.068),(8.04,0.071),(8.12,0.068),(8.19,0.060),(8.22,0.105),(8.24,0.112),(8.28,0.110),(8.30,0.055),(8.32,0.110),(8.34,0.058),(8.36,0.108),(8.39,0.106),(8.41,0.050),(8.43,0.050),(8.45,0.105),(8.47,0.052),(8.55,0.060),(8.62,0.050),(8.68,0.052),(8.73,0.056),(8.85,0.055),(8.97,0.063),(9.10,0.065),(9.20,0.071),(9.30,0.070),(9.43,0.074),(9.52,0.072),(9.58,0.080),(9.62,0.118),(9.65,0.120),(9.68,0.085),(9.74,0.064),(9.85,0.062),(9.97,0.058),(10.10,0.062),(10.20,0.058),(10.28,0.052),(10.35,0.058),(10.43,0.065),(10.55,0.062),(10.67,0.068),(10.78,0.066),(10.90,0.071),(10.98,0.065),(11.05,0.058),(11.12,0.055),(11.18,0.060),(11.20,0.108),(11.23,0.105),(11.25,0.060),(11.32,0.055),(11.45,0.052),(11.59,0.055),(11.70,0.048),(11.83,0.051),(11.90,0.058),(11.98,0.065),(12.10,0.060),(12.20,0.062),(12.29,0.058),(12.40,0.063),(12.52,0.068),(12.60,0.072),(12.68,0.074),(12.75,0.071),(12.83,0.069),(12.90,0.060),(12.98,0.050),(13.05,0.045),(13.10,0.060),(13.12,0.108),(13.14,0.060),(13.20,0.045),(13.28,0.040),(13.37,0.038),(13.45,0.040),(13.55,0.036),(13.62,0.043),(13.68,0.050),(13.72,0.060),(13.80,0.065),(13.91,0.068),(14.00,0.070),(14.14,0.073),(14.25,0.075),(14.34,0.077),(14.42,0.073),(14.49,0.068),(14.60,0.063),(14.70,0.065),(14.76,0.058),(14.85,0.055),(14.92,0.050),(14.99,0.055),(15.08,0.046),(15.15,0.048),(15.22,0.060),(15.30,0.055),(15.38,0.063),(15.48,0.058),(15.61,0.062),(15.72,0.060),(15.84,0.068),(15.95,0.062),(16.08,0.058),(16.14,0.065),(16.17,0.108),(16.19,0.113),(16.21,0.060),(16.23,0.112),(16.26,0.060),(16.31,0.058),(16.40,0.050),(16.46,0.052),(16.55,0.045),(16.62,0.048),(16.70,0.055),(16.77,0.062),(16.85,0.058),(16.92,0.063),(17.00,0.060),(17.10,0.066),(17.23,0.070),(17.30,0.068),(17.39,0.062),(17.46,0.055),(17.54,0.052),(17.60,0.057),(17.68,0.045),(17.76,0.040)]

C_LHIP_Y_FILT = [(6.42,0.922),(6.65,0.903),(6.80,0.863),(6.94,0.796),(7.07,0.836),(7.27,0.911),(7.50,0.922),(7.88,0.925),(8.04,0.930),(8.19,0.890),(8.39,0.783),(8.54,0.675),(8.66,0.568),(8.71,0.527),(8.81,0.568),(8.97,0.729),(9.12,0.863),(9.28,0.925),(9.58,0.925),(9.74,0.903),(9.89,0.796),(10.09,0.756),(10.28,0.756),(10.51,0.769),(10.67,0.836),(10.82,0.903),(11.01,0.936),(11.21,0.917),(11.36,0.850),(11.52,0.756),(11.75,0.680),(11.98,0.667),(12.13,0.702),(12.25,0.809),(12.37,0.903),(12.60,0.925),(12.91,0.930),(13.14,0.903),(13.37,0.850),(13.60,0.756),(13.80,0.675),(13.91,0.648),(14.07,0.729),(14.22,0.863),(14.38,0.917),(14.61,0.925),(14.84,0.911),(15.07,0.850),(15.31,0.769),(15.50,0.689),(15.61,0.656),(15.73,0.689),(15.84,0.796),(16.00,0.903),(16.23,0.922),(16.54,0.930),(16.70,0.903),(16.93,0.783),(17.08,0.689),(17.17,0.648),(17.28,0.689),(17.43,0.809),(17.59,0.895),(17.76,0.930)]
C_LHIP_Y_UNF = C_LHIP_Y_FILT

C_LHIP_Z_FILT = [(6.42,-0.925),(6.80,-0.920),(6.99,-0.958),(7.15,-1.008),(7.30,-0.995),(7.50,-0.933),(7.73,-0.915),(7.88,-0.908),(8.04,-0.920),(8.23,-0.958),(8.35,-1.045),(8.43,-1.175),(8.54,-1.133),(8.66,-1.108),(8.77,-1.065),(8.97,-1.008),(9.16,-0.945),(9.35,-0.933),(9.55,-0.938),(9.62,-0.970),(9.68,-1.108),(9.74,-1.015),(9.97,-1.020),(10.28,-1.008),(10.51,-0.953),(10.82,-0.938),(10.98,-0.970),(11.09,-1.015),(11.13,-1.095),(11.19,-1.040),(11.36,-1.040),(11.59,-1.045),(11.75,-0.995),(11.98,-0.925),(12.29,-0.925),(12.52,-0.958),(12.79,-1.008),(12.87,-1.070),(12.95,-1.045),(13.14,-1.020),(13.37,-0.970),(13.60,-0.920),(13.72,-0.915),(13.99,-0.970),(14.30,-1.033),(14.53,-1.040),(14.76,-0.995),(14.99,-0.920),(15.23,-0.920),(15.46,-0.945),(15.62,-1.008),(15.70,-1.095),(15.78,-1.033),(16.00,-1.020),(16.23,-0.970),(16.46,-0.933),(16.77,-0.920),(16.93,-0.890),(17.16,-0.875),(17.31,-0.858),(17.43,-0.845),(17.59,-0.870),(17.76,-0.875)]
C_LHIP_Z_UNF = [(6.42,-0.923),(6.60,-0.925),(6.80,-0.918),(6.99,-0.960),(7.08,-1.010),(7.15,-1.015),(7.30,-0.993),(7.50,-0.931),(7.73,-0.913),(7.88,-0.905),(8.04,-0.922),(8.23,-0.960),(8.33,-1.040),(8.355,-1.200),(8.38,-1.220),(8.40,-1.050),(8.42,-1.230),(8.45,-1.050),(8.47,-1.250),(8.50,-1.060),(8.53,-1.260),(8.56,-1.080),(8.66,-1.100),(8.77,-1.060),(8.90,-1.030),(8.97,-1.006),(9.16,-0.943),(9.35,-0.931),(9.55,-0.940),(9.62,-0.980),(9.64,-1.200),(9.68,-1.200),(9.70,-1.020),(9.74,-1.017),(9.97,-1.022),(10.28,-1.006),(10.51,-0.951),(10.82,-0.940),(10.98,-0.972),(11.08,-1.020),(11.10,-1.220),(11.12,-1.050),(11.19,-1.042),(11.36,-1.038),(11.59,-1.047),(11.75,-0.993),(11.98,-0.923),(12.29,-0.927),(12.52,-0.956),(12.79,-1.010),(12.84,-1.040),(12.86,-1.230),(12.88,-1.050),(12.95,-1.047),(13.14,-1.018),(13.37,-0.972),(13.60,-0.918),(13.72,-0.913),(13.99,-0.972),(14.30,-1.035),(14.53,-1.042),(14.76,-0.993),(14.99,-0.918),(15.23,-0.922),(15.46,-0.943),(15.62,-1.010),(15.66,-1.040),(15.68,-1.210),(15.70,-1.060),(15.72,-1.210),(15.74,-1.040),(15.78,-1.035),(16.00,-1.018),(16.23,-0.972),(16.46,-0.931),(16.77,-0.918),(16.93,-0.888),(17.16,-0.873),(17.31,-0.856),(17.43,-0.840),(17.50,-0.860),(17.59,-0.868),(17.76,-0.877)]

SERIES_NAMES = ["unfiltered", "filtered"]

# ---------------- Panel configuration ----------------
A_L, A_R = (-0.173, 4.097), (-0.176, 4.087)
B_L, B_R = (-0.558, 12.016), (-0.575, 11.972)
C_L, C_R = (6.158, 17.28), (6.424, 17.763)
XT_A = [0.0, 0.5, 1.0, 1.5, 2.0, 2.5, 3.0, 3.5, 4.0]
XT_B = [0, 2, 4, 6, 8, 10, 12]
XT_C = [8, 10, 12, 14, 16]

# legend box geometry per group: width, height, font size, row offsets
LEG_A = (64, 24.5, 7.5, 6.6, 17.2)
LEG_B = (63, 24.5, 7.5, 6.7, 17.0)
LEG_C = (59, 23.0, 7.0, 6.0, 16.3)

panels = [
    # name, unf, filt, frame(L,R,T,B), xrange, yrange, yticks, yfmt, xticks, xfmt, bottom, right, legend(anchor, px, py, geom)
    ("RHip X", A_RHIP_X_UNF, A_RHIP_X_FILT, (82, 686, 13, 95), A_L, (-0.2122, -0.1083), [-0.200, -0.175, -0.150, -0.125], ".3f", XT_A, ".1f", False, False, ("tr", 682, 16.7, LEG_A)),
    ("RHip Y", A_RHIP_Y_UNF, A_RHIP_Y_FILT, (82, 686, 111, 194), A_L, (0.7576, 1.010), [0.80, 0.85, 0.90, 0.95, 1.00], ".2f", XT_A, ".1f", False, False, ("bl", 83, 190, LEG_A)),
    ("RHip Z", A_RHIP_Z_UNF, A_RHIP_Z_FILT, (82, 686, 209, 292), A_L, (-1.3203, -0.8655), [-1.3, -1.2, -1.1, -1.0, -0.9], ".1f", XT_A, ".1f", True, False, ("bl", 83, 289, LEG_A)),
    ("LHip X", A_LHIP_X_UNF, A_LHIP_X_FILT, (732, 1333, 12, 94), A_R, (0.0079, 0.1128), [0.025, 0.050, 0.075, 0.100], ".3f", XT_A, ".1f", False, True, ("tr", 1330, 15, LEG_A)),
    ("LHip Y", A_LHIP_Y_UNF, A_LHIP_Y_FILT, (732, 1333, 110, 193), A_R, (0.763, 1.012), [0.80, 0.85, 0.90, 0.95, 1.00], ".2f", XT_A, ".1f", False, True, ("bl", 734.5, 189.5, LEG_A)),
    ("LHip Z", A_LHIP_Z_UNF, A_LHIP_Z_FILT, (732, 1333, 209, 291), A_R, (-1.295, -0.8704), [-1.2, -1.1, -1.0, -0.9], ".1f", XT_A, ".1f", True, True, ("bl", 734.5, 287, LEG_A)),
    ("RHip X", B_RHIP_X_UNF, B_RHIP_X_FILT, (80, 682, 366, 448), B_L, (-0.327, 1.651), [0.0, 0.5, 1.0, 1.5], ".1f", XT_B, "d", False, False, ("tl", 83, 369.3, LEG_B)),
    ("RHip Y", B_RHIP_Y_UNF, B_RHIP_Y_FILT, (80, 682, 464, 547), B_L, (-11.15, 1.71), [-10, -5, 0], "d", XT_B, "d", False, False, ("bl", 83.5, 542.3, LEG_B)),
    ("RHip Z", B_RHIP_Z_UNF, B_RHIP_Z_FILT, (80, 682, 562, 644), B_L, (-1.298, 3.204), [-1, 0, 1, 2, 3], "d", XT_B, "d", True, False, ("tl", 83.5, 566.3, LEG_B)),
    ("LHip X", B_LHIP_X_UNF, B_LHIP_X_FILT, (733, 1333, 365, 448), B_R, (-0.035, 0.415), [0.0, 0.1, 0.2, 0.3, 0.4], ".1f", XT_B, "d", False, True, ("tl", 737.5, 369.7, LEG_B)),
    ("LHip Y", B_LHIP_Y_UNF, B_LHIP_Y_FILT, (733, 1333, 464, 546), B_R, (-8.436, 1.576), [-8, -6, -4, -2, 0], "d", XT_B, "d", False, True, ("bl", 737.5, 542.3, LEG_B)),
    ("LHip Z", B_LHIP_Z_UNF, B_LHIP_Z_FILT, (733, 1333, 562, 644), B_R, (-1.283, 3.09), [-1, 0, 1, 2, 3], "d", XT_B, "d", True, True, ("tl", 737.5, 566.7, LEG_B)),
    ("RHip X", C_RHIP_X_UNF, C_RHIP_X_FILT, (80, 680, 728, 801), C_L, (-0.2566, -0.0139), [-0.25, -0.20, -0.15, -0.10, -0.05], ".2f", XT_C, "d", False, False, ("tr", 676.5, 731.7, LEG_C)),
    ("RHip Y", C_RHIP_Y_UNF, C_RHIP_Y_FILT, (80, 680, 816, 890), C_L, (0.521, 0.948), [0.6, 0.7, 0.8, 0.9], ".1f", XT_C, "d", False, False, ("bl", 81.5, 887, LEG_C)),
    ("RHip Z", C_RHIP_Z_UNF, C_RHIP_Z_FILT, (80, 680, 904, 978), C_L, (-1.272, -0.819), [-1.2, -1.1, -1.0, -0.9], ".1f", XT_C, "d", True, False, ("bl", 82, 974.5, LEG_C)),
    ("LHip X", C_LHIP_X_UNF, C_LHIP_X_FILT, (731, 1333, 727, 801), C_R, (0.0046, 0.152), [0.05, 0.10, 0.15], ".2f", XT_C, "d", False, True, ("tr", 1333, 730.3, LEG_C)),
    ("LHip Y", C_LHIP_Y_UNF, C_LHIP_Y_FILT, (731, 1333, 816, 889), C_R, (0.453, 1.043), [0.6, 0.8, 1.0], ".1f", XT_C, "d", False, True, ("bl", 735, 886.7, LEG_C)),
    ("LHip Z", C_LHIP_Z_UNF, C_LHIP_Z_FILT, (731, 1333, 906, 979), C_R, (-1.3, -0.775), [-1.2, -1.0, -0.8], ".1f", XT_C, "d", True, True, ("bl", 735, 975, LEG_C)),
]

fig = go.Figure()
layout = {}
shapes = []
annotations = []
AXC = "#555555"
TXT = "#333333"
TICKF = dict(family=FONT, size=8, color=TXT)

def px_x(v):
    return v / W

def px_y(v):
    return 1 - v / H

for i, (name, unf, filt, frame, xr, yr, yt, yfmt, xt, xfmt, bottom, right, leg) in enumerate(panels, start=1):
    sfx = "" if i == 1 else str(i)
    xa, ya = "x" + sfx, "y" + sfx
    tu = [p[0] for p in unf]; vu = [p[1] for p in unf]
    tf = [p[0] for p in filt]; vf = [p[1] for p in filt]
    fig.add_trace(go.Scatter(x=tu, y=vu, mode="lines", name=SERIES_NAMES[0], showlegend=False,
                             line=dict(color=BLUE, width=1.3), xaxis=xa, yaxis=ya))
    fig.add_trace(go.Scatter(x=tf, y=vf, mode="lines", name=SERIES_NAMES[1], showlegend=False,
                             line=dict(color=ORANGE, width=1.5, shape="spline", smoothing=0.7),
                             xaxis=xa, yaxis=ya))
    L, R, T, B = frame
    layout["xaxis" + sfx] = dict(
        domain=[px_x(L), min(px_x(R), 1.0)], range=list(xr), anchor=ya,
        showline=True, linecolor=AXC, linewidth=1.2, mirror=True,
        ticks="outside", ticklen=3, tickcolor=AXC, tickwidth=1,
        tickvals=xt, tickformat=xfmt, showticklabels=bottom, tickfont=TICKF,
        showgrid=False, zeroline=False,
        title=dict(text="Time" if bottom else "", font=dict(family=FONT, size=8, color=TXT), standoff=3),
    )
    layout["yaxis" + sfx] = dict(
        domain=[px_y(B), px_y(T)], range=list(yr), anchor=xa,
        showline=True, linecolor=AXC, linewidth=1.2, mirror=(not right),
        ticks="outside", ticklen=3, tickcolor=AXC, tickwidth=1,
        tickvals=yt, tickformat=yfmt, tickfont=TICKF,
        showgrid=False, zeroline=False,
        title=dict(text=name, font=dict(family=FONT, size=7, color=TXT), standoff=6),
    )
    # legend box drawn like matplotlib's compact legend
    anc, lx, ly, (lw, lh, lfs, r1, r2) = leg
    left = lx if anc[1] == "l" else lx - lw
    top = ly if anc[0] == "t" else ly - lh
    shapes.append(dict(type="rect", xref="paper", yref="paper", layer="above",
                       x0=px_x(left), x1=px_x(left + lw), y0=px_y(top + lh), y1=px_y(top),
                       line=dict(color="#d4d4d4", width=1), fillcolor="rgba(255,255,255,0.85)"))
    for k, (lbl, col) in enumerate(zip(SERIES_NAMES, [BLUE, ORANGE])):
        yy = top + (r1 if k == 0 else r2)
        shapes.append(dict(type="line", xref="paper", yref="paper", layer="above",
                           x0=px_x(left + 3.5), x1=px_x(left + 19.5), y0=px_y(yy), y1=px_y(yy),
                           line=dict(color=col, width=1.5)))
        annotations.append(dict(text=lbl, xref="paper", yref="paper", x=px_x(left + 24), y=px_y(yy),
                                xanchor="left", yanchor="middle", showarrow=False,
                                font=dict(family=FONT, size=lfs, color=TXT)))

annotations.append(dict(text="<b>β</b>", x=px_x(12), y=px_y(305), xref="paper", yref="paper",
                        xanchor="left", yanchor="middle", showarrow=False,
                        font=dict(family="Liberation Serif", size=28, color="black")))
annotations.append(dict(text="'", x=px_x(10), y=px_y(667), xref="paper", yref="paper",
                        xanchor="left", yanchor="middle", showarrow=False,
                        font=dict(family="Liberation Serif", size=14, color="black")))

fig.update_layout(**layout)
fig.update_layout(
    width=W, height=H, margin=dict(l=0, r=0, t=0, b=0),
    paper_bgcolor="white", plot_bgcolor="white", showlegend=False,
    font=dict(family=FONT, size=8, color=TXT),
    shapes=shapes, annotations=annotations,
)

fig.write_html("out.html", config={"displayModeBar": False},
               post_script="document.body.style.margin='0';document.body.style.overflow='hidden';")
